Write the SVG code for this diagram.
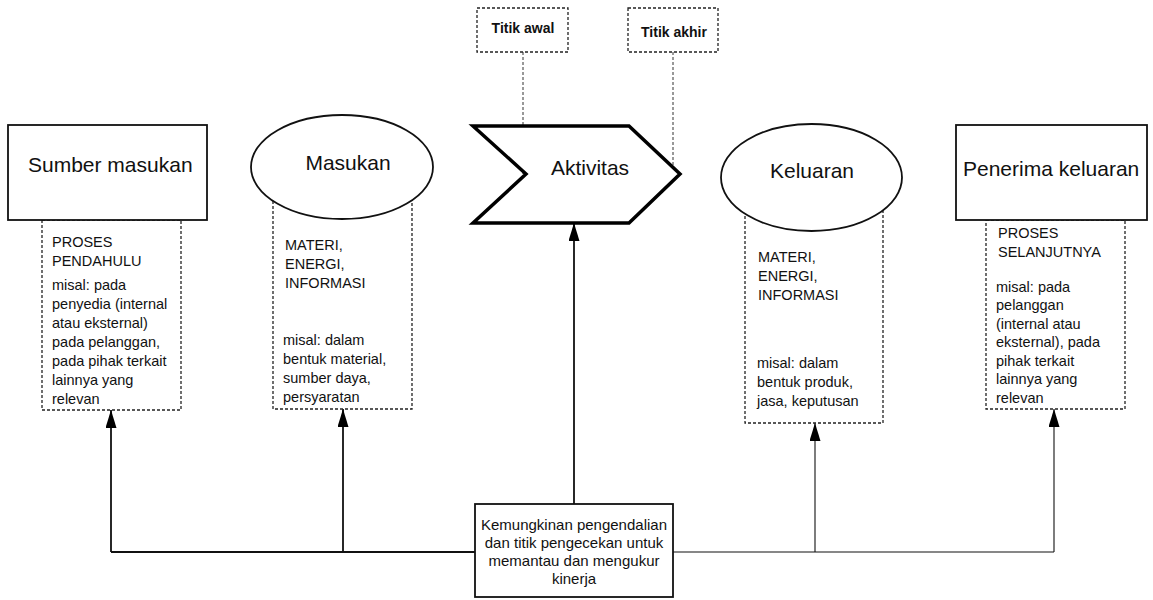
<svg xmlns="http://www.w3.org/2000/svg" width="1153" height="600" viewBox="0 0 1153 600">
<style>
text{font-family:"Liberation Sans",Arial,sans-serif;fill:#111}
.big{font-size:21px}
.body{font-size:14.5px}
.tag{font-size:14px;font-weight:bold}
.foot{font-size:15px}
.solid{fill:#fff;stroke:#111;stroke-width:1.8}
.dash{fill:#fff;stroke:#222;stroke-width:1.3;stroke-dasharray:3,2}
.dline{fill:none;stroke:#333;stroke-width:1;stroke-dasharray:3,2}
.conn{fill:none;stroke:#111}
</style>
<defs>
<marker id="ah" markerUnits="userSpaceOnUse" markerWidth="18" markerHeight="11" refX="18" refY="5.5" orient="auto" viewBox="0 0 18 11">
<path d="M0,0 L18,5.5 L0,11 Z" fill="#000"/>
</marker>
</defs>
<rect width="1153" height="600" fill="#fff"/>

<g id="connectors">
<path class="conn" stroke-width="1.8" d="M111,552 H475"/>
<path class="conn" stroke-width="1.2" d="M673,552 H1054"/>
<path class="conn" stroke-width="1.8" d="M111,552 V410" marker-end="url(#ah)"/>
<path class="conn" stroke-width="1.8" d="M343,552 V409" marker-end="url(#ah)"/>
<path class="conn" stroke-width="1.8" d="M574,504 V223" marker-end="url(#ah)"/>
<path class="conn" stroke-width="1.1" d="M815,552 V423" marker-end="url(#ah)"/>
<path class="conn" stroke-width="1.1" d="M1054,552 V409" marker-end="url(#ah)"/>
<path class="dline" d="M523,52 V174"/>
<path class="dline" d="M673,52 V167"/>
</g>

<g id="sumber-masukan">
<rect class="dash" x="42" y="220" width="139" height="190"/>
<rect class="solid" x="8" y="125" width="199" height="95"/>
<text class="big" x="28" y="172">Sumber masukan</text>
<text class="body" x="52" y="247">PROSES</text>
<text class="body" x="52" y="266">PENDAHULU</text>
<text class="body" x="52" y="290">misal: pada</text>
<text class="body" x="52" y="309">penyedia (internal</text>
<text class="body" x="52" y="328">atau eksternal)</text>
<text class="body" x="52" y="347">pada pelanggan,</text>
<text class="body" x="52" y="366">pada pihak terkait</text>
<text class="body" x="52" y="385">lainnya yang</text>
<text class="body" x="52" y="404">relevan</text>
</g>

<g id="masukan">
<rect class="dash" x="273" y="167" width="139" height="242"/>
<ellipse class="solid" cx="342" cy="167" rx="91" ry="52" stroke-width="1.5"/>
<text class="big" x="348" y="170" text-anchor="middle">Masukan</text>
<text class="body" x="285" y="250">MATERI,</text>
<text class="body" x="285" y="269">ENERGI,</text>
<text class="body" x="285" y="288">INFORMASI</text>
<text class="body" x="283" y="345">misal: dalam</text>
<text class="body" x="283" y="364">bentuk material,</text>
<text class="body" x="283" y="383">sumber daya,</text>
<text class="body" x="283" y="402">persyaratan</text>
</g>

<g id="aktivitas">
<path d="M473,126 H629 L680,174 L629,223 H473 L526,174 Z" fill="#fff" stroke="#000" stroke-width="3.5" stroke-linejoin="miter"/>
<text class="big" x="590" y="175" text-anchor="middle">Aktivitas</text>
</g>

<g id="titik-awal">
<rect class="dash" x="477" y="8" width="91" height="44"/>
<text class="tag" x="523" y="33" text-anchor="middle">Titik awal</text>
</g>

<g id="titik-akhir">
<rect class="dash" x="628" y="8" width="90" height="44"/>
<text class="tag" x="674" y="37" text-anchor="middle">Titik akhir</text>
</g>

<g id="keluaran">
<rect class="dash" x="745" y="178" width="138" height="245"/>
<ellipse class="solid" cx="811.5" cy="177.5" rx="90.5" ry="53.5" stroke-width="1.5"/>
<text class="big" x="812" y="178" text-anchor="middle">Keluaran</text>
<text class="body" x="758" y="262">MATERI,</text>
<text class="body" x="758" y="281">ENERGI,</text>
<text class="body" x="758" y="300">INFORMASI</text>
<text class="body" x="757" y="368">misal: dalam</text>
<text class="body" x="757" y="387">bentuk produk,</text>
<text class="body" x="757" y="406">jasa, keputusan</text>
</g>

<g id="penerima-keluaran">
<rect class="dash" x="986" y="220" width="139" height="189"/>
<rect class="solid" x="956" y="125" width="191" height="95"/>
<text class="big" x="963" y="176">Penerima keluaran</text>
<text class="body" x="998" y="238">PROSES</text>
<text class="body" x="998" y="257">SELANJUTNYA</text>
<text class="body" x="996" y="292">misal: pada</text>
<text class="body" x="996" y="310">pelanggan</text>
<text class="body" x="996" y="329">(internal atau</text>
<text class="body" x="996" y="347">eksternal), pada</text>
<text class="body" x="996" y="366">pihak terkait</text>
<text class="body" x="996" y="384">lainnya yang</text>
<text class="body" x="996" y="403">relevan</text>
</g>

<g id="pengendalian">
<rect class="solid" x="475" y="504" width="198" height="93" stroke-width="1.5"/>
<text class="foot" x="574" y="530" text-anchor="middle">Kemungkinan pengendalian</text>
<text class="foot" x="574" y="548" text-anchor="middle">dan titik pengecekan untuk</text>
<text class="foot" x="574" y="566" text-anchor="middle">memantau dan mengukur</text>
<text class="foot" x="574" y="584" text-anchor="middle">kinerja</text>
</g>
</svg>
